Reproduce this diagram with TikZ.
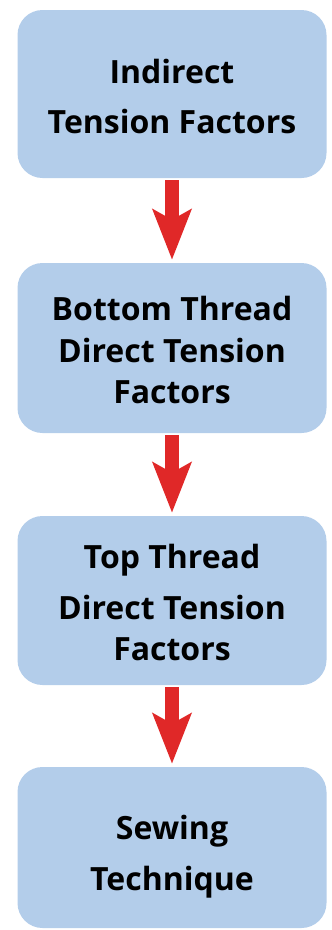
\documentclass[tikz,border=0pt]{standalone}
\usepackage{fontspec}
\setmainfont{Open Sans}[UprightFont=* Bold]
\usetikzlibrary{arrows.meta}
\definecolor{boxblue}{HTML}{B3CDEA}
\definecolor{arrowred}{HTML}{E02828}
\newcommand{\boxtext}[2]{\raisebox{#1}[\height][\depth]{\begin{tabular}{@{}c@{}}#2\end{tabular}}}
\tikzset{
  flowbox/.style={fill=boxblue, draw=none, rounded corners=25pt, minimum width=309pt, align=center, inner sep=0pt},
  flowarrow/.style={draw=arrowred, line width=14pt, shorten <=2pt, shorten >=3pt,
    -{Stealth[length=50pt, width=38pt, inset=10pt, fill=arrowred]}}
}
\begin{document}
\begin{tikzpicture}[x=1pt,y=-1pt]
\useasboundingbox (0,0) rectangle (332,930);
\node[flowbox, minimum height=168pt, font=\fontsize{32}{50}\selectfont] (b1) at (172,94) {\boxtext{-4.5pt}{Indirect\\Tension Factors}};
\node[flowbox, minimum height=170pt, font=\fontsize{32}{42}\selectfont] (b2) at (172,348) {\boxtext{-6pt}{Bottom Thread\\Direct Tension\\[-1pt]Factors}};
\node[flowbox, minimum height=169pt, font=\fontsize{32}{41}\selectfont] (b3) at (172,600.5) {\boxtext{-6pt}{Top Thread\\[10pt]Direct Tension\\Factors}};
\node[flowbox, minimum height=161pt, font=\fontsize{32}{51}\selectfont] (b4) at (172,847.5) {\boxtext{-7.5pt}{Sewing\\Technique}};
\draw[flowarrow] (b1.south) -- (b2.north);
\draw[flowarrow] (b2.south) -- (b3.north);
\draw[flowarrow] (b3.south) -- (b4.north);
\end{tikzpicture}
\end{document}
